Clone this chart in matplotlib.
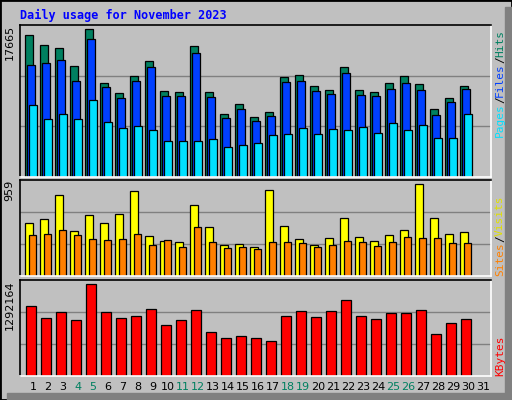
import matplotlib.pyplot as plt
from matplotlib.patches import Rectangle

days = list(range(1, 32))
hits = [16494, 15295, 14946, 12850, 17157, 10870, 9707, 11686, 13432, 9975,
        9824, 15178, 9824, 7379, 8427, 7030, 7612, 11570, 11803, 10522,
        10091, 12734, 10091, 9824, 10870, 11686, 10755, 7845, 9125, 10522]
files = [12967, 13200, 13549, 11104, 15993, 10406, 9125, 11104, 12734, 9358,
         9358, 14364, 9242, 6914, 7845, 6565, 7147, 10988, 11104, 9940,
         9591, 12036, 9475, 9358, 10173, 10870, 10057, 7263, 8660, 10173]
pages = [8311, 6798, 7379, 6798, 8893, 6448, 5750, 5983, 5517, 4237,
         4237, 4237, 4470, 3539, 3771, 4004, 4935, 5052, 5750, 5052,
         5634, 5517, 5867, 5168, 6332, 5517, 6099, 4586, 4586, 7379]
visits = [530, 570, 809, 450, 610, 530, 620, 850, 400, 350,
          340, 710, 490, 310, 320, 290, 860, 500, 370, 310,
          380, 580, 390, 350, 410, 460, 920, 580, 420, 440]
sites = [410, 420, 460, 410, 370, 360, 370, 420, 310, 360,
         290, 490, 340, 280, 290, 270, 340, 340, 330, 290,
         310, 350, 340, 300, 340, 390, 380, 380, 330, 330]
kbytes = [943000, 775000, 861000, 748000, 1242000, 861000, 775000, 803000, 902000, 680000,
          748000, 889000, 598000, 517000, 544000, 517000, 476000, 803000, 875000, 789000,
          875000, 1020000, 803000, 762000, 848000, 848000, 889000, 571000, 707000, 762000]
weekend = [4, 5, 11, 12, 18, 19, 25, 26]
max_hits, max_visits, max_kb = 17665, 959, 1292164

BG = '#C0C0C0'
C_HITS, C_FILES, C_PAGES = '#008060', '#0040FF', '#00E0FF'
C_VISITS, C_SITES, C_KB = '#FFFF00', '#FF8000', '#FF0000'

fig = plt.figure(figsize=(5.12, 4.0), dpi=100, facecolor=BG)
fig.patches.append(Rectangle((0, 0), 1, 1, transform=fig.transFigure,
                             fill=False, edgecolor='black', lw=2))
fig.patches.append(Rectangle((505 / 512, 0), 7 / 512, 1 - 7 / 400, transform=fig.transFigure,
                             color='#808080'))
fig.patches.append(Rectangle((7 / 512, 0), 1 - 7 / 512, 7 / 400, transform=fig.transFigure,
                             color='#808080'))

W, H = 512, 400


def make_ax(top, bottom):
    ax = fig.add_axes([20 / W, 1 - bottom / H, 471 / W, (bottom - top) / H])
    ax.set_facecolor(BG)
    ax.set_xlim(0.133, 31.53)
    ax.set_xticks([])
    ax.set_yticks([])
    for s in ax.spines.values():
        s.set_linewidth(1.2)
    ax.spines['bottom'].set_color('white')
    ax.spines['right'].set_color('white')
    return ax


def grid(ax, ymax):
    for f in (1 / 3, 2 / 3):
        ax.axhline(ymax * f, color='#808080', lw=1, zorder=0)
    ax.set_ylim(0, ymax)
    ax.text(-0.012, 1, str(ymax), transform=ax.transAxes, rotation=90,
            ha='right', va='top', fontsize=8)


d = [x for x in days[:30]]
bk = dict(edgecolor='black', linewidth=0.9, zorder=2)

ax1 = make_ax(25, 177)
grid(ax1, max_hits)
ax1.bar([x - 0.27 for x in d], hits, width=0.5, color=C_HITS, **bk)
ax1.bar([x - 0.15 for x in d], files, width=0.5, color=C_FILES, **bk)
ax1.bar([x - 0.01 for x in d], pages, width=0.5, color=C_PAGES, **bk)

ax2 = make_ax(180, 276)
grid(ax2, max_visits)
ax2.bar([x - 0.25 for x in d], visits, width=0.53, color=C_VISITS, **bk)
ax2.bar([x - 0.01 for x in d], sites, width=0.47, color=C_SITES, **bk)

ax3 = make_ax(280, 376)
grid(ax3, max_kb)
ax3.bar([x - 0.11 for x in d], kbytes, width=0.67, color=C_KB, **bk)

for i in days:
    ax3.text(i, -0.06, str(i), transform=ax3.get_xaxis_transform(), ha='center', va='top',
             fontsize=8, color='#008060' if i in weekend else 'black')

fig.text(20 / W, 1 - 15 / H, 'Daily usage for November 2023', color='#0000FF',
         family='DejaVu Sans Mono', fontweight='bold', fontsize=8.5, va='center')

mono = dict(family='DejaVu Sans Mono', fontsize=8, rotation=90, ha='center', va='bottom')
x_r = 500 / W
for txt, y0, col in [('Pages', 137, C_PAGES), ('/', 103, 'black'), ('Files', 97, C_FILES),
                     ('/', 63, 'black'), ('Hits', 57, C_HITS)]:
    fig.text(x_r, 1 - y0 / H, txt, color=col, **mono)
for txt, y0, col in [('Sites', 276, C_SITES), ('/', 242, 'black'), ('Visits', 236, '#E0E000')]:
    fig.text(x_r, 1 - y0 / H, txt, color=col, **mono)
fig.text(x_r, 1 - 376 / H, 'KBytes', color=C_KB, **mono)

fig.savefig('out.png', dpi=100, facecolor=BG)
